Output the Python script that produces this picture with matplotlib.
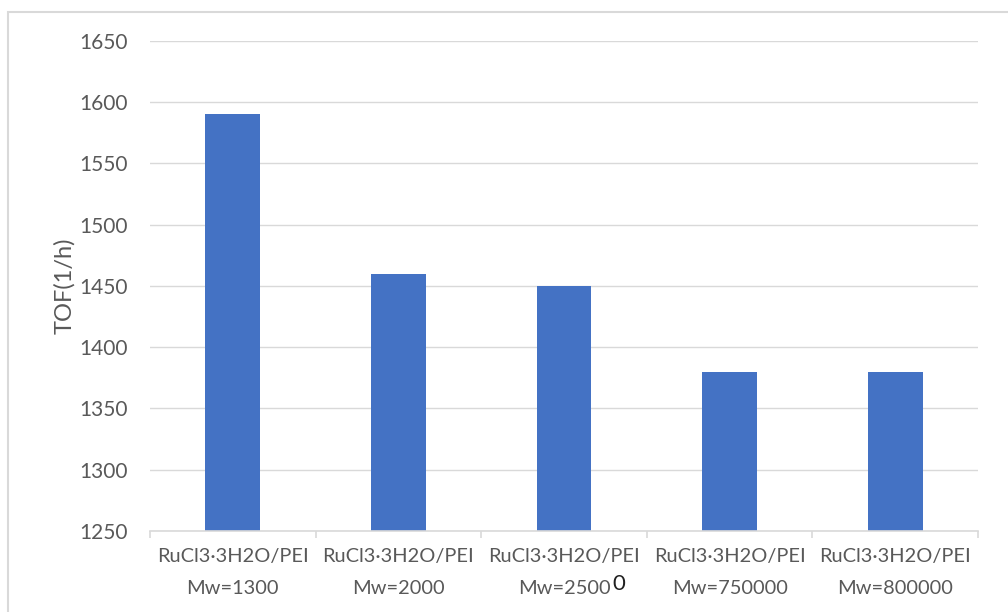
import matplotlib
matplotlib.use("Agg")
import matplotlib.pyplot as plt
from matplotlib.patches import Rectangle
import numpy as np

categories = ["RuCl3·3H2O/PEI\nMw=1300", "RuCl3·3H2O/PEI\nMw=2000",
              "RuCl3·3H2O/PEI\nMw=2500", "RuCl3·3H2O/PEI\nMw=750000",
              "RuCl3·3H2O/PEI\nMw=800000"]
tof = [1590, 1460, 1450, 1380, 1380]
y_ticks = [1250, 1300, 1350, 1400, 1450, 1500, 1550, 1600, 1650]

plt.rcParams['font.family'] = ['Lato', 'DejaVu Sans']

W, H = 1008, 612
fig = plt.figure(figsize=(W / 100, H / 100), dpi=100)
ax = fig.add_axes([150 / W, 1 - 531 / H, (978 - 150) / W, (531 - 41) / H])

# chart frame
fig.patches.append(Rectangle((8 / W, -0.01), 1.02, 1 - 12 / H + 0.01,
                             transform=fig.transFigure, fill=False,
                             edgecolor="#D9D9D9", linewidth=1.5))

x = np.arange(len(categories))
ax.bar(x, tof, width=0.33, color="#4472C4", zorder=3)

ax.set_xlim(-0.5, len(categories) - 0.5)
ax.set_ylim(1250, 1650)
ax.set_yticks(y_ticks)
ax.yaxis.grid(True, color="#D9D9D9", linewidth=1)
ax.set_axisbelow(True)

for s in ["top", "right", "left"]:
    ax.spines[s].set_visible(False)
ax.spines["bottom"].set_color("#D9D9D9")
ax.spines["bottom"].set_linewidth(1.2)
ax.spines["bottom"].set_zorder(4)

ax.tick_params(axis="y", length=0, pad=16, labelsize=15, labelcolor="#595959")
ax.set_xticks(x)
ax.set_xticklabels(categories, fontsize=14.4, color="#595959", linespacing=2.1)
ax.tick_params(axis="x", which="major", length=0, pad=12)
ax.set_xticks(np.arange(-0.5, len(categories)), minor=True)
ax.tick_params(axis="x", which="minor", length=5, color="#D9D9D9", width=1.2)

ax.set_ylabel("TOF(1/h)", fontsize=17, color="#595959", labelpad=3)

# stray character next to the third label
fig.text(619 / W, 1 - 584 / H, "0", fontsize=16, color="#202020",
         ha="center", va="center")

fig.savefig("out.png", dpi=100)
